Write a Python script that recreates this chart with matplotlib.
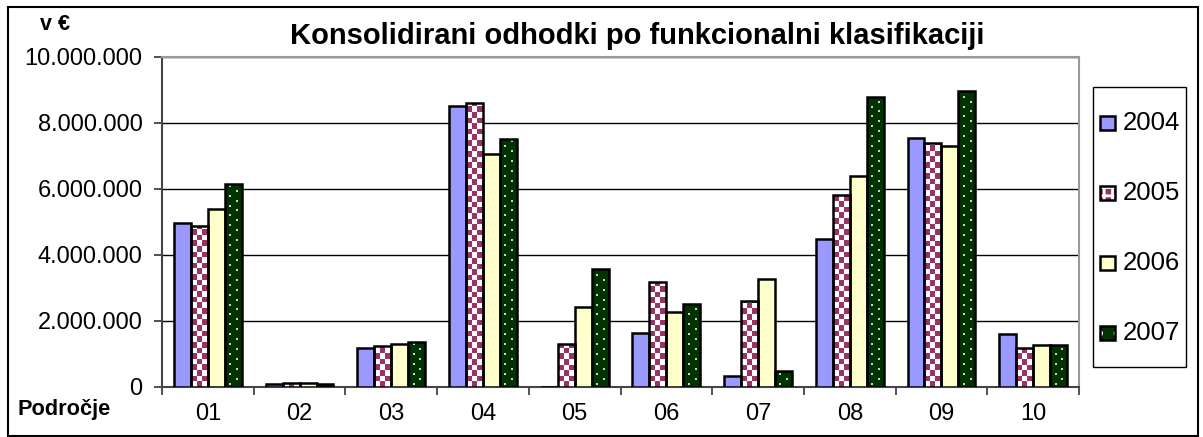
import numpy as np
import matplotlib.pyplot as plt
from matplotlib.patches import Rectangle
from matplotlib.colors import ListedColormap

plt.rcParams['font.family'] = ['Liberation Sans', 'DejaVu Sans']
plt.rcParams['hatch.linewidth'] = 2.0

# data (v €)
categories = ['01', '02', '03', '04', '05', '06', '07', '08', '09', '10']
years = ['2004', '2005', '2006', '2007']
v2004 = [4950000, 80000, 1160000, 8500000, 0, 1620000, 320000, 4470000, 7540000, 1590000]
v2005 = [4880000, 100000, 1230000, 8600000, 1300000, 3180000, 2600000, 5820000, 7370000, 1180000]
v2006 = [5370000, 100000, 1300000, 7050000, 2420000, 2270000, 3270000, 6390000, 7300000, 1250000]
v2007 = [6140000, 80000, 1350000, 7500000, 3570000, 2500000, 470000, 8790000, 8970000, 1270000]
series = [v2004, v2005, v2006, v2007]
colors = ['#9999FF', '#993366', '#FFFFCC', '#003300']

W, H = 1203, 437
fig = plt.figure(figsize=(W / 100, H / 100), dpi=100)
ax = fig.add_axes([162 / W, 1 - 386.7 / H, (1079 - 162) / W, 330 / H])
ax.set_xlim(-0.5, len(categories) - 0.5)
ax.set_ylim(0, 10000000)

x = np.arange(len(categories))
w = 0.185
offsets = (np.arange(4) - 1.5) * w

# pattern sizes (about 5.5 px checker cells, dots every 5 px)
cell_x, cell_y = w / 3, 170000
dot_step = 150000
checker = ListedColormap(['white', '#993366'])

for i, (vals, off) in enumerate(zip(series, offsets)):
    fc = 'white' if i == 1 else colors[i]
    fills = ax.bar(x + off, vals, w, color=fc, linewidth=0, zorder=3)
    ax.bar(x + off, vals, w, fill=False, edgecolor='black', linewidth=1.8, zorder=5)
    for patch, v in zip(fills, vals):
        if v <= 0:
            continue
        x0 = patch.get_x()
        if i == 1:
            ny = max(1, int(np.ceil(v / cell_y)))
            grid = (np.add.outer(np.arange(ny), np.arange(3)) % 2)
            im = ax.imshow(grid, cmap=checker, interpolation='nearest', origin='lower',
                           extent=(x0, x0 + w, 0, ny * cell_y), aspect='auto', zorder=4,
                           vmin=0, vmax=1)
            im.set_clip_path(patch)
        elif i == 3:
            ys = np.arange(dot_step * 0.6, v - dot_step * 0.3, dot_step)
            xs = np.where(np.arange(len(ys)) % 2 == 0, x0 + 0.32 * w, x0 + 0.72 * w)
            ax.scatter(xs, ys, s=2.5, marker='s', color='#BBDDBB', linewidths=0, zorder=4)

ax.set_xlim(-0.5, len(categories) - 0.5)
ax.set_ylim(0, 10000000)
ax.set_yticks(np.arange(0, 10000001, 2000000))
ax.set_yticklabels(['{:,}'.format(v).replace(',', '.') for v in range(0, 10000001, 2000000)],
                   fontsize=17)
ax.set_xticks(x)
ax.set_xticklabels(categories, fontsize=17)
ax.set_xticks(np.arange(-0.5, len(categories)), minor=True)
ax.tick_params(axis='x', which='major', length=0, pad=12)
ax.tick_params(axis='x', which='minor', length=6, width=1.2, color='#333333')
ax.tick_params(axis='y', length=6, width=1.2, color='#333333', pad=8)

ax.grid(axis='y', color='black', linewidth=1.0, zorder=0)
ax.set_axisbelow(True)
for side in ['top', 'right']:
    ax.spines[side].set_color('#999999')
    ax.spines[side].set_linewidth(1.5)
for side in ['left', 'bottom']:
    ax.spines[side].set_color('#444444')
    ax.spines[side].set_linewidth(1.5)

fig.text(637 / W, 1 - 36 / H, 'Konsolidirani odhodki po funkcionalni klasifikaciji',
         fontsize=21, fontweight='bold', ha='center', va='center')
fig.text(55 / W, 1 - 24 / H, 'v €', fontsize=15.5, fontweight='bold', ha='center', va='center')
fig.text(64 / W, 1 - 409 / H, 'Področje', fontsize=15.7, fontweight='bold',
         ha='center', va='center')

# legend box
fig.patches.append(Rectangle((1093 / W, 1 - 367 / H), 93 / W, 280 / H, transform=fig.transFigure,
                             fill=False, edgecolor='black', linewidth=1.0))
legend_hatch = [None, '++', None, '.']
for k, yr in enumerate(years):
    yc = 123 + 70 * k
    kw = dict(facecolor=colors[k], linewidth=0)
    if legend_hatch[k]:
        kw = dict(facecolor=colors[k], hatch=legend_hatch[k], edgecolor='white', linewidth=0)
    fig.patches.append(Rectangle((1100 / W, 1 - (yc + 7) / H), 15 / W, 14 / H,
                                 transform=fig.transFigure, **kw))
    fig.patches.append(Rectangle((1100 / W, 1 - (yc + 7) / H), 15 / W, 14 / H,
                                 transform=fig.transFigure, fill=False, edgecolor='black',
                                 linewidth=1.8))
    fig.text(1123 / W, 1 - yc / H, yr, fontsize=18.5, ha='left', va='center')

# outer chart border
fig.patches.append(Rectangle((8 / W, 1 - 436 / H), 1190 / W, 429 / H,
                             transform=fig.transFigure, fill=False, edgecolor='black',
                             linewidth=1.5))

fig.savefig('out.png', dpi=100)
